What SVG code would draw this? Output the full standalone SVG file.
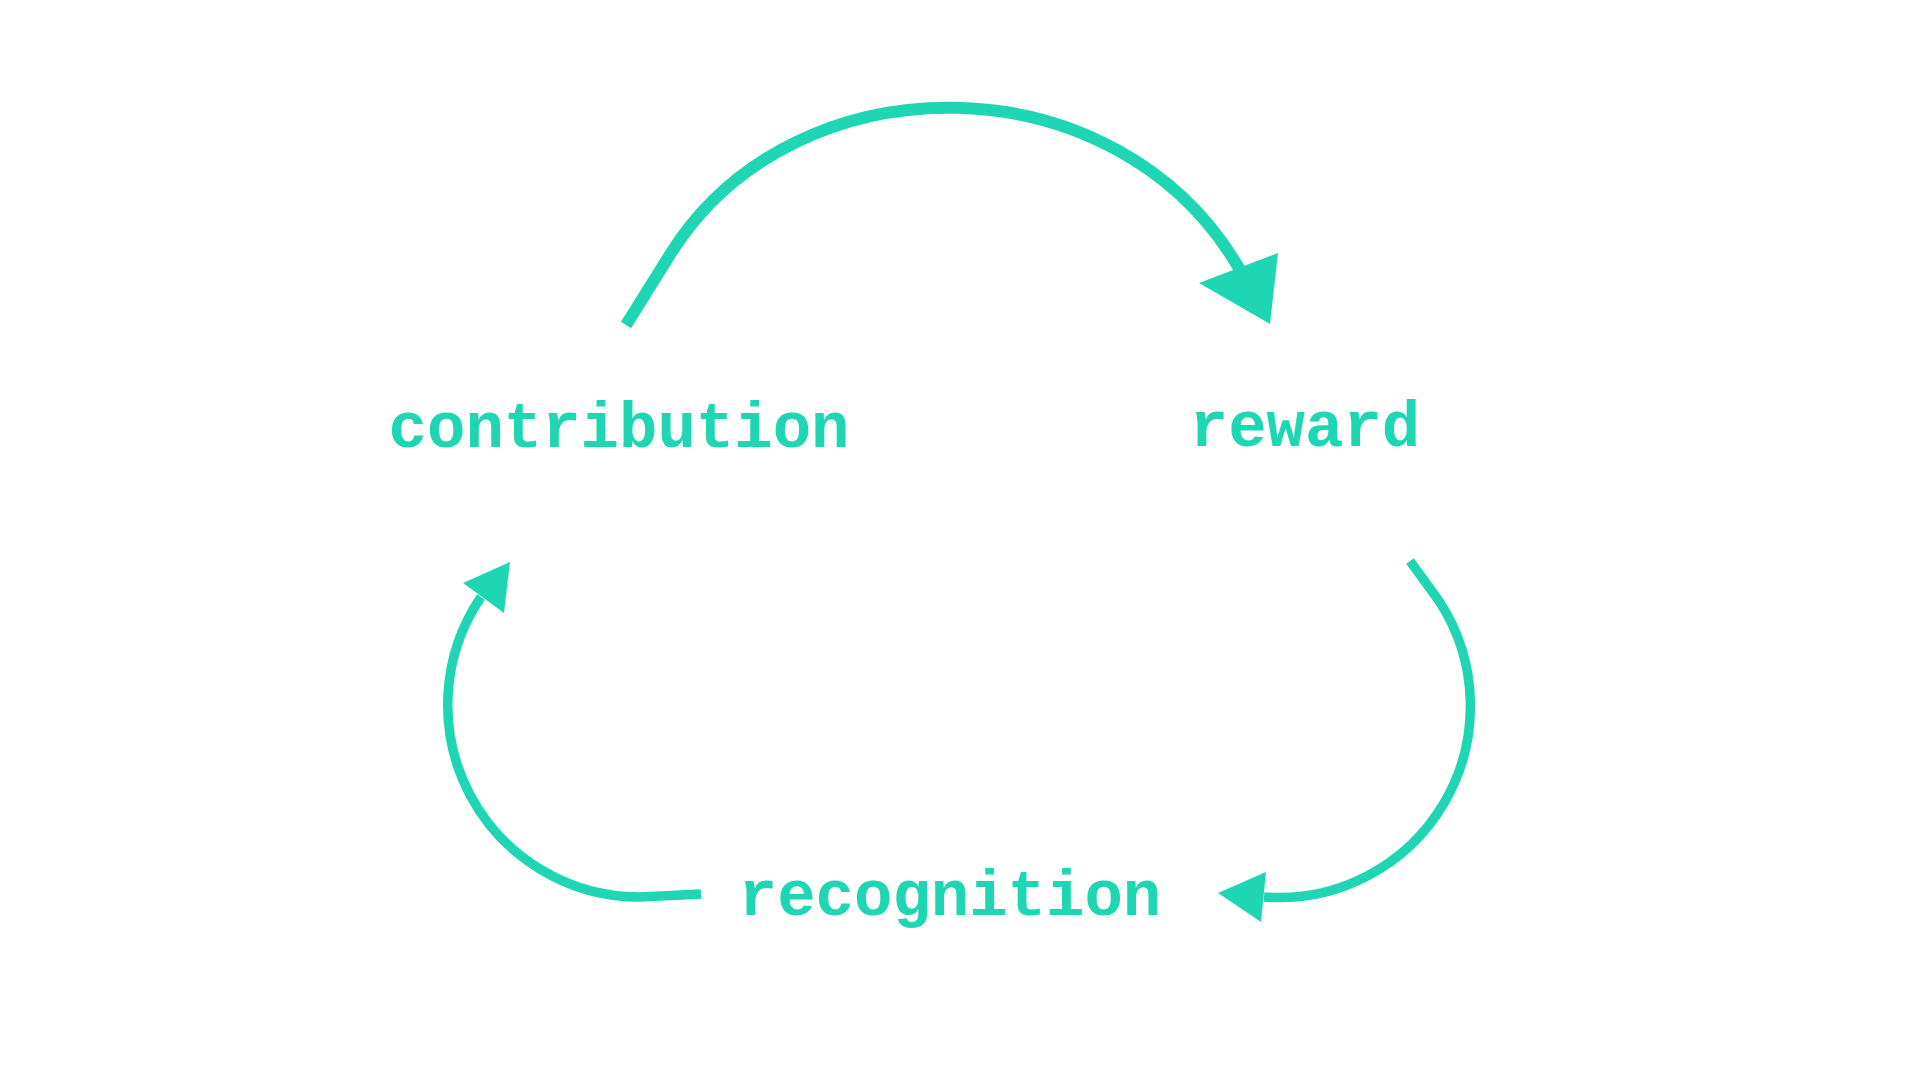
<svg xmlns="http://www.w3.org/2000/svg" width="1920" height="1080" viewBox="0 0 1920 1080">
  <style>
    .label { font-family: "Liberation Mono", "Courier New", monospace; font-weight: bold; font-size: 64px; fill: #1ED6B4; text-anchor: middle; }
    .edge { fill: none; stroke: #1ED6B4; stroke-linejoin: round; }
    .thick { stroke-width: 12; }
    .thin { stroke-width: 9.5; }
    .head { fill: #1ED6B4; stroke: none; }
  </style>
  <rect x="0" y="0" width="1920" height="1080" fill="#FFFFFF"/>
  <g id="connectors">
    <g id="edge-contribution-reward">
      <path class="edge thick" d="M 626 325 L 671 253 C 796 55, 1118 58, 1240 270"/>
      <polygon class="head" points="1278,253 1199,283 1270,324"/>
    </g>
    <g id="edge-reward-recognition">
      <path class="edge thin" d="M 1410 561 L 1439 601 A 191.5 191.5 0 0 1 1264 897"/>
      <polygon class="head" points="1266,872 1218,893 1261,922"/>
    </g>
    <g id="edge-recognition-contribution">
      <path class="edge thin" d="M 701 894 L 640 897 A 192 192 0 0 1 481 597"/>
      <polygon class="head" points="510,562 463,583 504,613"/>
    </g>
  </g>
  <g id="node-contribution">
    <text class="label" x="619" y="447">contribution</text>
  </g>
  <g id="node-reward">
    <text class="label" x="1305" y="446">reward</text>
  </g>
  <g id="node-recognition">
    <text class="label" x="950" y="915">recognition</text>
  </g>
</svg>
